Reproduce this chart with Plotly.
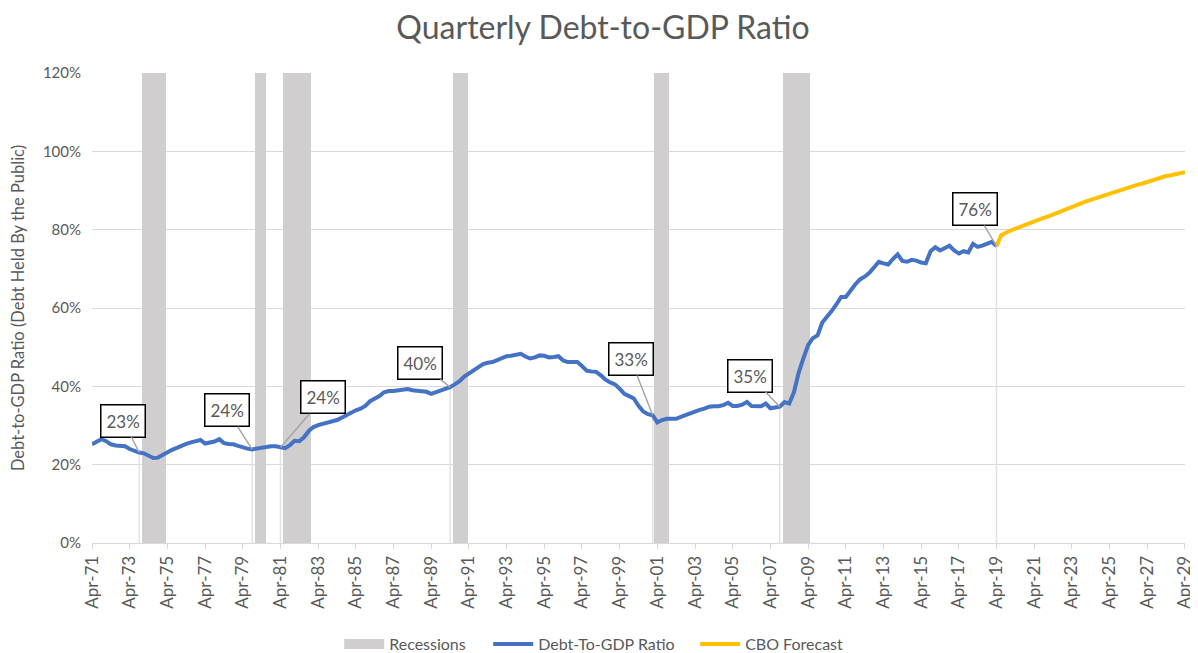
import pandas as pd
import plotly.graph_objects as go

# ---------------- data ----------------
debt_ratio = [
    25.2, 25.8, 26.5, 26.0, 25.2, 24.9, 24.7, 24.7, 24.0, 23.5,
    23.1, 22.9, 22.2, 21.7, 21.8, 22.5, 23.2, 23.8, 24.3, 24.9,
    25.3, 25.7, 26.0, 26.3, 25.4, 25.6, 25.9, 26.5, 25.5, 25.3,
    25.2, 24.8, 24.4, 24.1, 23.9, 24.1, 24.4, 24.7, 24.7, 24.7,
    24.4, 24.2, 25.0, 26.1, 26.0, 27.0, 28.6, 29.6, 30.1, 30.4,
    30.8, 31.1, 31.4, 32.0, 32.7, 33.4, 33.9, 34.3, 35.0, 36.2,
    36.8, 37.5, 38.5, 38.8, 38.8, 38.9, 39.1, 39.3, 39.0, 38.9,
    38.8, 38.6, 38.1, 38.5, 39.0, 39.4, 39.8, 40.5, 41.3, 42.5,
    43.3, 44.0, 45.0, 45.7, 46.0, 46.2, 46.7, 47.3, 47.7, 47.8,
    48.0, 48.3, 47.6, 47.1, 47.4, 47.9, 47.8, 47.4, 47.5, 47.7,
    46.6, 46.2, 46.2, 46.2, 45.2, 44.0, 43.8, 43.7, 42.8, 41.7,
    41.0, 40.5, 39.4, 38.1, 37.5, 36.9, 35.0, 33.6, 32.9, 32.6,
    30.8, 31.4, 31.7, 31.7, 31.7, 32.2, 32.7, 33.2, 33.6, 34.0,
    34.3, 34.8, 34.9, 34.9, 35.2, 35.8, 35.0, 35.0, 35.3, 36.0,
    35.0, 34.9, 34.9, 35.6, 34.4, 34.6, 34.8, 36.0, 35.6, 38.5,
    43.5, 47.2, 50.5, 52.3, 53.0, 56.3, 57.6, 59.2, 60.9, 62.8,
    62.8, 64.6, 66.0, 67.3, 68.0, 69.0, 70.3, 71.8, 71.4, 71.1,
    72.5, 73.7, 72.0, 71.8, 72.3, 72.1, 71.6, 71.4, 74.5, 75.5,
    74.7, 75.3, 75.9, 74.7, 73.9, 74.5, 74.2, 76.4, 75.6, 75.9,
    76.5, 76.9, 75.8,
]
debt_start = "1971-04-01"

cbo_forecast = [
    75.8, 78.6, 79.2, 79.8, 80.3, 80.7, 81.2, 81.5, 82.0, 82.5,
    83.0, 83.4, 83.9, 84.4, 84.9, 85.4, 85.9, 86.4, 86.8, 87.2,
    87.6, 88.0, 88.4, 88.8, 89.2, 89.6, 90.0, 90.5, 90.9, 91.2,
    91.5, 91.8, 92.2, 92.5, 92.9, 93.3, 93.7, 93.9, 94.2, 94.4,
    94.7,
]
cbo_start = "2019-04-01"

recession_start = ["1973-12-01", "1979-12-01", "1981-05-15", "1990-06-01", "2001-02-01", "2007-12-01"]
recession_end = ["1975-03-10", "1980-06-15", "1982-11-15", "1991-03-10", "2001-11-15", "2009-05-15"]
recession_height = 120

# labelled points (index into debt_ratio) and label box offsets (pixels)
label_idx = [10, 34, 40, 76, 119, 146, 192]
label_ax = [-16, -25, 43, -30, -22, -30, -22]
label_ay = [-32, -39, -50, -24, -56, -31, -37]

tick_years = list(range(1971, 2030, 2))
axis_end = "2029-04-01 12:00"

# ---------------- build ----------------
debt_dates = pd.date_range(debt_start, periods=len(debt_ratio), freq="3MS")
cbo_dates = pd.date_range(cbo_start, periods=len(cbo_forecast), freq="3MS")

rs = pd.to_datetime(recession_start)
re_ = pd.to_datetime(recession_end)
rec_mid = rs + (re_ - rs) / 2
rec_width = [(e - s).total_seconds() * 1000 for s, e in zip(rs, re_)]

GRAY = "#595959"
FONT = "Lato"
REC_COLOR = "#d0cece"

fig = go.Figure()

fig.add_trace(go.Bar(
    x=rec_mid, y=[recession_height] * len(rs), width=rec_width,
    marker=dict(color=REC_COLOR, line=dict(width=0)),
    name="Recessions", legendgroup="rec", showlegend=False, hoverinfo="skip",
))
# legend entry for the recession shading (wide swatch like the reference)
fig.add_trace(go.Scatter(
    x=[None], y=[None], mode="lines", line=dict(color=REC_COLOR, width=14),
    name="Recessions", legendgroup="rec", legendwidth=94,
))

# drop lines from labelled points
dx, dy = [], []
for i in label_idx:
    dx += [debt_dates[i], debt_dates[i], None]
    dy += [debt_ratio[i], 0, None]
fig.add_trace(go.Scatter(
    x=dx, y=dy, mode="lines", line=dict(color="#e3e3e3", width=1.5),
    showlegend=False, hoverinfo="skip",
))

fig.add_trace(go.Scatter(
    x=debt_dates, y=debt_ratio, mode="lines",
    line=dict(color="#4472C4", width=4), name="Debt-To-GDP Ratio", legendwidth=152,
))
fig.add_trace(go.Scatter(
    x=cbo_dates, y=cbo_forecast, mode="lines",
    line=dict(color="#FFC000", width=4), name="CBO Forecast",
))

for i, ax, ay in zip(label_idx, label_ax, label_ay):
    fig.add_annotation(
        x=debt_dates[i], y=debt_ratio[i], text=f"{round(debt_ratio[i])}%",
        showarrow=True, arrowhead=0, arrowwidth=1.5, arrowcolor="#a6a6a6",
        ax=ax, ay=ay, standoff=0, startstandoff=0,
        font=dict(family=FONT, size=17, color=GRAY),
        bgcolor="white", bordercolor="black", borderwidth=1.5, borderpad=5,
    )

# page body has an 8px margin: figure offset by 8px inside the 1198x653 window
fig.update_layout(
    width=1190, height=653,
    margin=dict(l=84, r=13, t=65, b=118, autoexpand=False),
    paper_bgcolor="white", plot_bgcolor="white",
    title=dict(text="Quarterly Debt-to-GDP Ratio", x=0.5, xanchor="center",
               y=1 - 20 / 653, yanchor="middle", yref="container",
               font=dict(family=FONT, size=32, color=GRAY)),
    bargap=0,
    font=dict(family=FONT, color=GRAY),
    legend=dict(orientation="h", x=0.459, xanchor="center", y=-0.215, yanchor="middle",
                bgcolor="rgba(0,0,0,0)", itemwidth=40,
                font=dict(family=FONT, size=16, color=GRAY), traceorder="normal"),
    showlegend=True,
)

fig.update_xaxes(
    type="date", automargin=False,
    range=[debt_start, axis_end],
    tickvals=[pd.Timestamp(f"{y}-04-01") for y in tick_years],
    ticktext=[f"Apr-{y % 100:02d}" for y in tick_years],
    tickangle=-90, tickfont=dict(family=FONT, size=17, color=GRAY),
    showgrid=False, showline=True, linecolor="#d9d9d9", linewidth=1,
    ticks="outside", ticklen=5, tickcolor="#d9d9d9",
    zeroline=False,
)
fig.update_yaxes(
    automargin=False,
    range=[0, 120], dtick=20, ticksuffix="%",
    tickfont=dict(family=FONT, size=15, color=GRAY), ticklabelstandoff=10,
    showgrid=True, gridcolor="#d9d9d9", gridwidth=1,
    zeroline=False, showline=False,
    title=dict(text="Debt-to-GDP Ratio (Debt Held By the Public)",
               font=dict(family=FONT, size=16.5, color=GRAY), standoff=16),
)

fig.write_html("out.html")
